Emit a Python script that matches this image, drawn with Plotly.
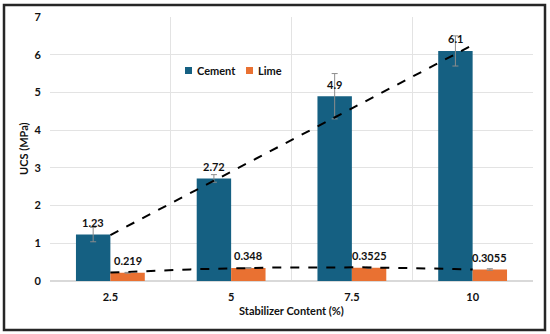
import numpy as np
import plotly.graph_objects as go

categories = ["2.5", "5", "7.5", "10"]
cement = [1.23, 2.72, 4.9, 6.1]
lime = [0.219, 0.348, 0.3525, 0.3055]
cement_err = [0.19, 0.1, 0.6, 0.4]
lime_err = [0.01, 0.01, 0.015, 0.02]
cement_labels = ["1.23", "2.72", "4.9", "6.1"]
lime_labels = ["0.219", "0.348", "0.3525", "0.3055"]
series_names = ["Cement", "Lime"]

xpos = np.arange(len(categories))
FONT = "Lato, 'Open Sans', sans-serif"
C_CEM = "#156082"
C_LIME = "#E97132"
BOLD = dict(family=FONT, size=11, color="#111", weight="bold")

W, H = 550, 334
L, R, T, B = 50, 17, 17, 53
pw, ph = W - L - R, H - T - B
BARGAP = 0.43
half = (1 - BARGAP) / 4  # offset of each bar centre from category centre

fig = go.Figure()
fig.add_trace(go.Bar(
    x=xpos, y=cement, name=series_names[0], marker=dict(color=C_CEM, line=dict(width=0)),
    error_y=dict(type="data", array=cement_err, color="#8c8c8c", thickness=1, width=3),
    showlegend=False,
))
fig.add_trace(go.Bar(
    x=xpos, y=lime, name=series_names[1], marker=dict(color=C_LIME, line=dict(width=0)),
    error_y=dict(type="data", array=lime_err, color="#8c8c8c", thickness=1, width=3),
    showlegend=False,
))

# trendlines (linear for cement, polynomial order 2 for lime), fitted from data
xs = np.linspace(0, 3, 60)
pc = np.polyfit(xpos, cement, 1)
pl = np.polyfit(xpos, lime, 2)
fig.add_trace(go.Scatter(x=xs, y=np.polyval(pc, xs), mode="lines", showlegend=False,
                         line=dict(color="black", width=2, dash="dash"), hoverinfo="skip"))
fig.add_trace(go.Scatter(x=xs, y=np.polyval(pl, xs), mode="lines", showlegend=False,
                         line=dict(color="black", width=2, dash="dash"), hoverinfo="skip"))

annotations = []
for i in range(len(categories)):
    annotations.append(dict(x=xpos[i] - half, y=cement[i], text=cement_labels[i],
                            showarrow=False, yshift=12, font=BOLD,
                            xanchor="center", yanchor="middle"))
    annotations.append(dict(x=xpos[i] + half, y=lime[i], text=lime_labels[i],
                            showarrow=False, yshift=12, font=BOLD,
                            xanchor="center", yanchor="middle"))

annotations += [
    dict(text="UCS (MPa)", xref="paper", yref="paper", x=-27 / pw, y=0.5,
         xanchor="center", yanchor="middle", textangle=-90, showarrow=False, font=BOLD),
    dict(text="Stabilizer Content (%)", xref="paper", yref="paper", x=0.5, y=-29 / ph,
         xanchor="center", yanchor="middle", showarrow=False, font=BOLD),
]

# custom legend (pixel positions converted to paper coords)
def px(xp):
    return (xp - L) / pw

def py(yp):
    return 1 - (yp - T) / ph

leg_y = 70.5
shapes = [dict(type="rect", xref="paper", yref="paper",
               x0=-46 / pw, x1=1 + 12 / pw, y0=-(B - 4) / ph, y1=1 + 12 / ph,
               line=dict(color="#262626", width=2.5), fillcolor="rgba(0,0,0,0)")]
for sx, color, name in [(185, C_CEM, series_names[0]), (246, C_LIME, series_names[1])]:
    shapes.append(dict(type="rect", xref="paper", yref="paper",
                       x0=px(sx), x1=px(sx + 7), y0=py(leg_y + 3.5), y1=py(leg_y - 3.5),
                       fillcolor=color, line=dict(width=0)))
    annotations.append(dict(text=name, xref="paper", yref="paper", x=px(sx + 10),
                            y=py(leg_y), xanchor="left", yanchor="middle",
                            showarrow=False, font=BOLD))

fig.update_layout(
    width=W, height=H,
    margin=dict(l=L, r=R, t=T, b=B, autoexpand=False),
    paper_bgcolor="white", plot_bgcolor="white",
    barmode="group", bargap=BARGAP, bargroupgap=0,
    font=dict(family=FONT, size=11, color="#222"),
    showlegend=False,
    xaxis=dict(
        range=[-0.5, 3.5], tickvals=list(xpos), ticktext=categories, automargin=False,
        showgrid=False, zeroline=False, showline=False, ticks="outside", ticklen=6,
        tickcolor="rgba(0,0,0,0)",
        tickfont=BOLD,
        minor=dict(tickvals=[-0.5, 0.5, 1.5, 2.5, 3.5], showgrid=True,
                   gridcolor="#e3e3e3", gridwidth=1, ticks=""),
    ),
    yaxis=dict(
        range=[0, 7], dtick=1, showgrid=True, gridcolor="#e3e3e3", gridwidth=1,
        zeroline=True, zerolinecolor="#d9d9d9", showline=False, ticks="outside",
        ticklen=6, tickcolor="rgba(0,0,0,0)", automargin=False,
        tickfont=BOLD,
    ),
    annotations=annotations,
    shapes=shapes,
)

fig.write_html("out.html", config={"displayModeBar": False},
               post_script="document.body.style.margin='0';document.body.style.overflow='hidden';")
